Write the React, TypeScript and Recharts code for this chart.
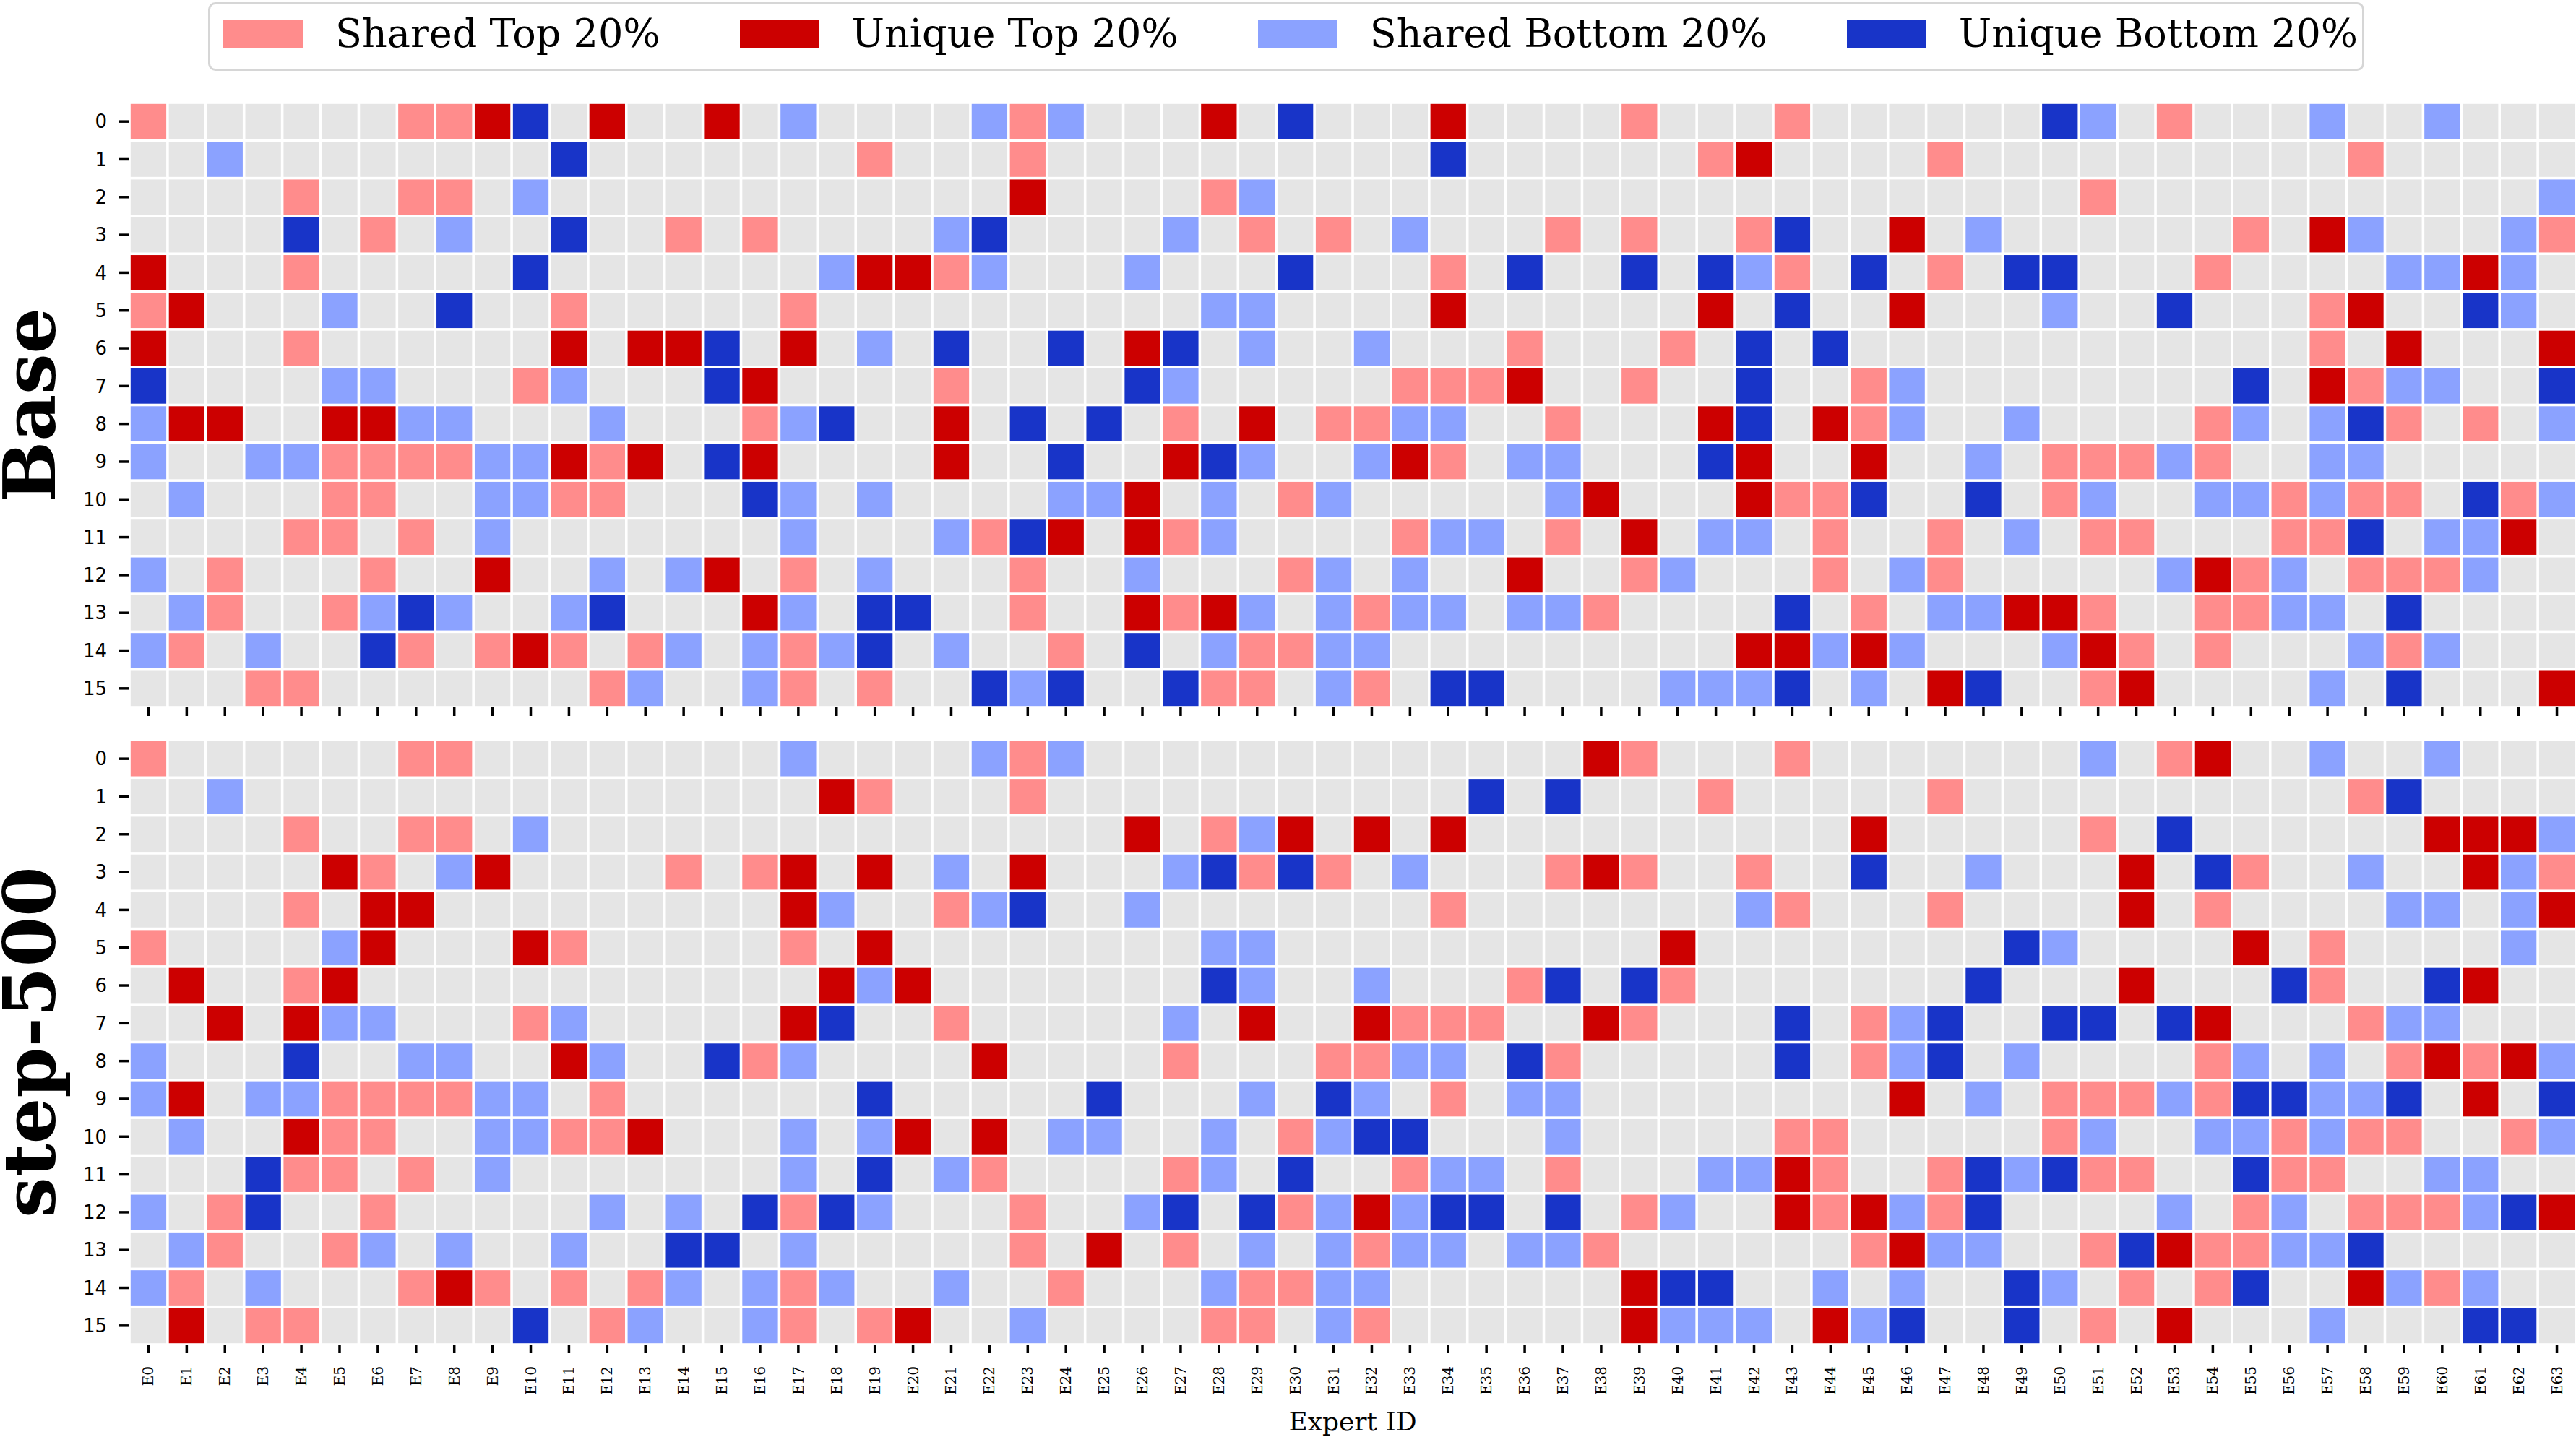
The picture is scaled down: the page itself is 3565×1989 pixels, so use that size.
import { Legend, Scatter, ScatterChart, XAxis, YAxis } from "recharts";

// cell codes: 0 = neither, 1 = shared top, 2 = unique top, 3 = shared bottom, 4 = unique bottom
const CATEGORY_NAMES = [
  "Other",
  "Shared Top 20%",
  "Unique Top 20%",
  "Shared Bottom 20%",
  "Unique Bottom 20%",
];
const CATEGORY_COLORS = ["#e5e5e5", "#ff8c8c", "#cc0000", "#8ba2ff", "#1834c8"];

const EXPERT_LABELS = Array.from({ length: 64 }, (_, i) => `E${i}`);
const LAYER_TICKS = Array.from({ length: 16 }, (_, i) => i);
const EXPERT_TICKS = EXPERT_LABELS.map((_, i) => i);

// one string per layer (rows 0-15), one digit per expert (E0-E63)
const BASE_ROWS = [
  "1000000112402002" + "0300003130002040" + "0020000100010000" + "0043010003003000",
  "0030000000040000" + "0001000100000000" + "0040000001200001" + "0000000000100000",
  "0000100110300000" + "0000000200001300" + "0000000000000000" + "0001000000000003",
  "0000401030040010" + "1000034000030101" + "0300010100140020" + "3000000102300031",
  "2000100000400000" + "0032213000300040" + "0010400404310401" + "0440001000033230",
  "1200030040010000" + "0100000000003300" + "0020000002040020" + "0030040001200430",
  "2000100000020224" + "0203040040240300" + "3000100010404000" + "0000000001020002",
  "4000033000130004" + "2000010000430000" + "0111200100400130" + "0000000402133004",
  "3220022330003000" + "1340020404010201" + "1330010002402130" + "0300001303410103",
  "3003311113321204" + "2000020040024300" + "3210330004200200" + "3011131003300000",
  "0300011003311000" + "4303000033203013" + "0000032000211400" + "4013003313110413",
  "0000110103000000" + "0300031420213000" + "0133010203301001" + "0301100011403320",
  "3010001002003032" + "0103000100300013" + "0300200130001031" + "0000032130111300",
  "0310013430034000" + "2304400100212303" + "1330331000040103" + "3221001133040000",
  "3103004101210130" + "3134030010403113" + "3000000000223230" + "0032101000313000",
  "0001100000001300" + "3101004340041103" + "1044000033340302" + "4001200003040002",
];

const STEP500_ROWS = [
  "1000000110000000" + "0300003130000000" + "0000002100010000" + "0003012003003000",
  "0030000000000000" + "0021000100000000" + "0004040001000001" + "0000000000140000",
  "0000100110300000" + "0000000000201320" + "2020000000000200" + "0001040000002223",
  "0000021032000010" + "1202030200034141" + "0300012100100400" + "3000204100300231",
  "0000102200000000" + "0230013400300000" + "0010000000310001" + "0000201000033032",
  "1000032000210000" + "0102000000003300" + "0000000020000000" + "0430000201000030",
  "0200120000000000" + "0023200000004300" + "3000140410000000" + "4000200041004200",
  "0020233000130000" + "0240010000030200" + "2111002100040134" + "0044042000133000",
  "3000400330023004" + "1300002000010001" + "1330410000040134" + "0300001303012123",
  "3203311113301000" + "0004000004000304" + "3010330000000020" + "3011131443340204",
  "0300211003311200" + "0303202033003013" + "4400030000011000" + "0013003313110013",
  "0004110103000000" + "0304031000013040" + "0133010003321001" + "4341100411003300",
  "3014001000003030" + "4143000100340413" + "2344040130021231" + "4000030130111342",
  "0310013030030044" + "0300000102010303" + "1330331000000123" + "3001421133400000",
  "3103000121010130" + "3130030010003113" + "3000000244003030" + "0430101400231300",
  "0201100000401300" + "3101200300001103" + "1000000233302340" + "0401020003000440",
];

const WIDTH = 3565;
const AXIS_W = 179;
const PLOT_H = 837;
const CELL_W = (WIDTH - AXIS_W) / 64;
const CELL_H = PLOT_H / 16;
const GAP = 3.6;

const cellsOf = (rows: string[], cat: number) =>
  rows.flatMap((row, y) =>
    row.split("").flatMap((c, x) => (Number(c) === cat ? [{ x, y }] : []))
  );

const CellRect = ({ cx, cy, color }: any) => {
  if (typeof cx !== "number" || typeof cy !== "number") return null;
  return (
    <rect
      x={cx - CELL_W / 2 + GAP / 2}
      y={cy - CELL_H / 2 + GAP / 2}
      width={CELL_W - GAP}
      height={CELL_H - GAP}
      fill={color}
    />
  );
};

const PanelTitle = ({ viewBox, text }: any) => {
  const cy = viewBox.y + viewBox.height / 2;
  return (
    <text
      x={76}
      y={cy}
      transform={`rotate(-90, 76, ${cy})`}
      textAnchor="middle"
      fontFamily="DejaVu Serif"
      fontWeight="bold"
      fontSize={100}
      fill="#000"
    >
      {text}
    </text>
  );
};

const AxisTitle = ({ viewBox }: any) => (
  <text
    x={viewBox.x + viewBox.width / 2}
    y={viewBox.y + viewBox.height - 9}
    textAnchor="middle"
    fontFamily="DejaVu Serif"
    fontSize={36}
    fill="#000"
  >
    Expert ID
  </text>
);

const ExpertTick = ({ x, y, payload }: any) => (
  <text
    x={x}
    y={y}
    transform={`rotate(-90, ${x}, ${y})`}
    textAnchor="end"
    dominantBaseline="central"
    fontFamily="DejaVu Serif"
    fontSize={20}
    fill="#000"
  >
    {EXPERT_LABELS[payload.value]}
  </text>
);

const LegendBox = ({ payload }: any) => {
  const items = (payload || [])
    .filter((p: any) => p.type !== "none")
    .sort((a: any, b: any) => CATEGORY_NAMES.indexOf(a.value) - CATEGORY_NAMES.indexOf(b.value));
  return (
    <div
      style={{
        display: "flex",
        alignItems: "center",
        boxSizing: "border-box",
        width: "100%",
        height: "100%",
        border: "3px solid #d6d6d6",
        borderRadius: 10,
        paddingLeft: 18,
        paddingBottom: 8,
        background: "#fff",
      }}
    >
      {items.map((p: any, i: number) => (
        <div key={p.value} style={{ display: "flex", alignItems: "center", marginLeft: i ? 110 : 0 }}>
          <span style={{ display: "block", width: 110, height: 39, background: p.color, marginRight: 45 }} />
          <span style={{ fontFamily: "DejaVu Serif", fontSize: 54, whiteSpace: "nowrap", color: "#000" }}>
            {p.value}
          </span>
        </div>
      ))}
    </div>
  );
};

type PanelProps = {
  rows: string[];
  title: string;
  height: number;
  top: number;
  xAxisHeight: number;
  showLabels: boolean;
  withLegend: boolean;
};

function Panel({ rows, title, height, top, xAxisHeight, showLabels, withLegend }: PanelProps) {
  return (
    <ScatterChart width={WIDTH} height={height} margin={{ top, right: 0, bottom: 0, left: 0 }}>
      <XAxis
        type="number"
        dataKey="x"
        domain={[-0.5, 63.5]}
        ticks={EXPERT_TICKS}
        interval={0}
        allowDataOverflow
        axisLine={false}
        tickLine={{ stroke: "#000", strokeWidth: 3.5 }}
        tickSize={12}
        tickMargin={18}
        height={xAxisHeight}
        tick={showLabels ? <ExpertTick /> : () => <g />}
        label={showLabels ? <AxisTitle /> : undefined}
      />
      <YAxis
        type="number"
        dataKey="y"
        domain={[-0.5, 15.5]}
        reversed
        ticks={LAYER_TICKS}
        interval={0}
        allowDataOverflow
        width={AXIS_W}
        axisLine={false}
        tickLine={{ stroke: "#000", strokeWidth: 3.5 }}
        tickSize={14}
        tickMargin={17}
        tick={{ fontFamily: "DejaVu Sans", fontSize: 26, fill: "#000" }}
        label={<PanelTitle text={title} />}
      />
      {withLegend && (
        <Legend
          layout="horizontal"
          verticalAlign="middle"
          width={2984}
          height={95}
          wrapperStyle={{ position: "absolute", left: 288, top: 3, width: 2984, height: 95 }}
          content={<LegendBox />}
        />
      )}
      {CATEGORY_NAMES.map((name, cat) => (
        <Scatter
          key={name}
          name={name}
          data={cellsOf(rows, cat)}
          fill={CATEGORY_COLORS[cat]}
          legendType={cat === 0 ? "none" : "square"}
          isAnimationActive={false}
          shape={(p: any) => <CellRect {...p} color={CATEGORY_COLORS[cat]} />}
        />
      ))}
    </ScatterChart>
  );
}

export default function App() {
  return (
    <div
      style={{
        position: "absolute",
        left: 0,
        top: 0,
        width: WIDTH,
        height: 1989,
        background: "#fff",
        overflow: "hidden",
      }}
    >
      <div style={{ position: "absolute", left: 0, top: 0 }}>
        <Panel rows={BASE_ROWS} title="Base" height={1000} top={142} xAxisHeight={21} showLabels={false} withLegend />
      </div>
      <div style={{ position: "absolute", left: 0, top: 1000 }}>
        <Panel
          rows={STEP500_ROWS}
          title="step-500"
          height={989}
          top={24}
          xAxisHeight={128}
          showLabels
          withLegend={false}
        />
      </div>
    </div>
  );
}
